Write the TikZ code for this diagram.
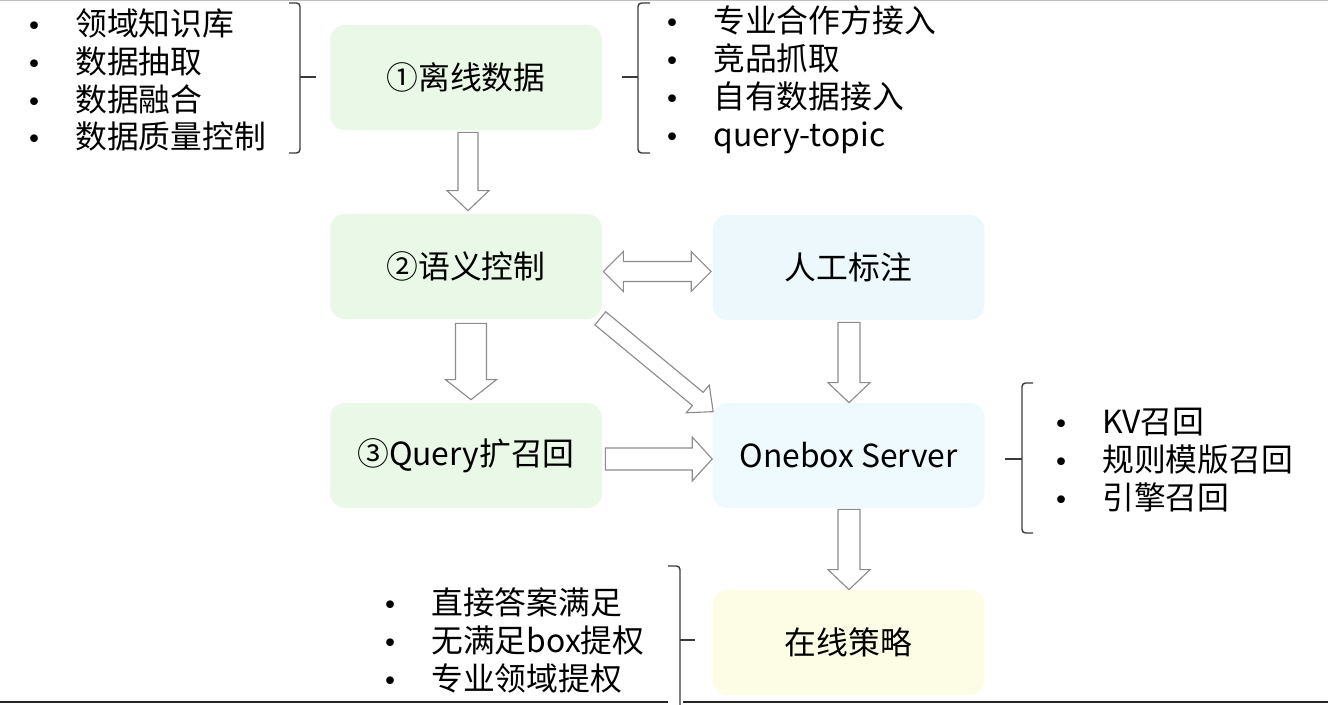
\documentclass[tikz,border=0pt]{standalone}
\usepackage{fontspec}
\setmainfont{Noto Sans CJK SC}
\newfontfamily\bulletfont{DejaVu Sans}
\usetikzlibrary{calc}

\definecolor{boxgreen}{HTML}{EAF8E7}
\definecolor{boxblue}{HTML}{EDF8FD}
\definecolor{boxcyan}{HTML}{EEFAFD}
\definecolor{boxyellow}{HTML}{FDFDE6}
\definecolor{arrgray}{HTML}{8C8C8C}
\definecolor{brkgray}{HTML}{3A3A3A}

% 空心箭头: #1 起点, #2 箭尖, #3 杆半宽, #4 头半宽
\newcommand{\blkarrow}[4]{%
  \coordinate (hb) at ($(#2)!0.4cm!(#1)$);
  \draw[blockarr] ($(#1)!#3!90:(#2)$) -- ($(hb)!#3!90:(#2)$) -- ($(hb)!#4!90:(#2)$)
    -- (#2) -- ($(hb)!#4!-90:(#2)$) -- ($(hb)!#3!-90:(#2)$) -- ($(#1)!#3!-90:(#2)$) -- cycle;
}
% 双向空心箭头
\newcommand{\dblarrow}[4]{%
  \coordinate (hb1) at ($(#1)!0.4cm!(#2)$);
  \coordinate (hb2) at ($(#2)!0.4cm!(#1)$);
  \draw[blockarr] (#1) -- ($(hb1)!#4!90:(#2)$) -- ($(hb1)!#3!90:(#2)$) -- ($(hb2)!#3!90:(#2)$)
    -- ($(hb2)!#4!90:(#2)$) -- (#2) -- ($(hb2)!#4!-90:(#2)$) -- ($(hb2)!#3!-90:(#2)$)
    -- ($(hb1)!#3!-90:(#2)$) -- ($(hb1)!#4!-90:(#2)$) -- cycle;
}
\newcommand{\itm}[1]{\makebox[0.98cm][l]{{\bulletfont\fontsize{15}{21.6}\selectfont •}}#1}

\tikzset{
  stage/.style={rounded corners=0.3cm, minimum width=5.44cm, minimum height=2.1cm,
    text=black, font=\fontsize{18.1}{21.6}\selectfont},
  blockarr/.style={draw=arrgray, fill=white, line width=0.65pt, line join=miter},
  brk/.style={draw=brkgray, line width=0.8pt, rounded corners=2pt},
  items/.style={anchor=west, align=left, inner sep=0pt, text=black,
    font=\fontsize{18.1}{21.6}\selectfont},
}

\begin{document}
\begin{tikzpicture}[x=0.02cm,y=-0.02cm]
\useasboundingbox (0,0) rectangle (1328,705);
% 上下边线
\draw[gray!50, line width=0.6pt] (0,0.6) -- (1328,0.6);
\draw[black!85, line width=1.4pt] (0,702) -- (668,702);
\draw[black!85, line width=1.4pt] (683,702) -- (1328,702);

\coordinate (P1) at (466,77.5);    % 离线数据
\coordinate (P2) at (466,266.5);   % 语义控制
\coordinate (P3) at (466,455.5);   % Query扩召回
\coordinate (P4) at (848.5,267.5); % 人工标注
\coordinate (P5) at (848.5,455.5); % Onebox
\coordinate (P6) at (848.5,642.5); % 在线策略

\node[stage, fill=boxgreen] (off) at (P1) {①离线数据};
\node[stage, fill=boxgreen] (sem) at (P2) {②语义控制};
\node[stage, fill=boxgreen] (qry) at (P3) {③Query扩召回};
\node[stage, fill=boxblue] (lab) at (P4) {人工标注};
\node[stage, fill=boxcyan] (onebox) at (P5) {Onebox Server};
\node[stage, fill=boxyellow] (onl) at (P6) {在线策略};

% 箭头
\coordinate (a1s) at ($(off.south)+(2,2)$);
\coordinate (a1e) at ($(sem.north)+(2,-3)$);
\blkarrow{a1s}{a1e}{0.2cm}{0.42cm}
\coordinate (a2s) at ($(sem.south)+(5,4)$);
\coordinate (a2e) at ($(qry.north)+(5,-3)$);
\blkarrow{a2s}{a2e}{0.31cm}{0.51cm}
\coordinate (a3s) at ($(qry.east)+(3,3.5)$);
\coordinate (a3e) at ($(onebox.west)+(0,3.5)$);
\blkarrow{a3s}{a3e}{0.22cm}{0.44cm}
\coordinate (a4s) at ($(lab.south)+(0.5,2)$);
\coordinate (a4e) at ($(onebox.north)+(0.5,0)$);
\blkarrow{a4s}{a4e}{0.22cm}{0.42cm}
\coordinate (a5s) at ($(onebox.south)+(0.5,1)$);
\coordinate (a5e) at ($(onl.north)+(0.5,0)$);
\blkarrow{a5s}{a5e}{0.22cm}{0.42cm}
\coordinate (a6s) at ($(sem.south east)+(-2,-1)$);
\coordinate (a6e) at ($(onebox.north west)+(1,9)$);
\blkarrow{a6s}{a6e}{0.17cm}{0.36cm}
\coordinate (d1) at ($(sem.east)+(1,5)$);
\coordinate (d2) at ($(sem.east -| lab.west)+(-1,5)$);
\dblarrow{d1}{d2}{0.2cm}{0.4cm}

% 列表
\node[items] (lst1) at (26,80) {\itm{领域知识库}\\ \itm{数据抽取}\\ \itm{数据融合}\\ \itm{数据质量控制}};
\node[items] (lst2) at (664,80) {\itm{专业合作方接入}\\ \itm{竞品抓取}\\ \itm{自有数据接入}\\ \itm{query-topic}};
\node[items] (lst3) at (1053,460.5) {\itm{KV召回}\\ \itm{规则模版召回}\\ \itm{引擎召回}};
\node[items] (lst4) at (382,640) {\itm{直接答案满足}\\ \itm{无满足box提权}\\ \itm{专业领域提权}};

% 括号
\draw[brk] (289,3) -- (300,3) -- (300,153) -- (289,153);
\draw[brk] (300,77) -- (316,77);
\draw[brk] (650,3) -- (638,3) -- (638,153) -- (650,153);
\draw[brk] (638,77) -- (622,77);
\draw[brk] (1033,383) -- (1022,383) -- (1022,533) -- (1033,533);
\draw[brk] (1022,459) -- (1005,459);
\draw[brk] (668,566) -- (680,566) -- (680,705);
\draw[brk] (680,640) -- (695,640);
\end{tikzpicture}
\end{document}
